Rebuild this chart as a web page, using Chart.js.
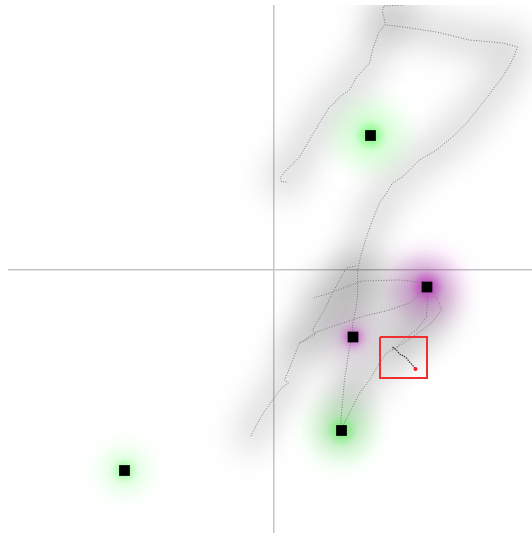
<!DOCTYPE html>
<html>
<head>
<meta charset="utf-8">
<script src="https://cdn.jsdelivr.net/npm/chart.js@4.4.1/dist/chart.umd.min.js"></script>
<style>
  html, body { margin: 0; padding: 0; background: #fff; }
  #wrap { width: 532px; height: 536px; }
</style>
</head>
<body>
<div id="wrap"><canvas id="trackChart"></canvas></div>
<script>
// Trails (x, y)
const trailA = [[1.30,2.65],[1.10,2.64],[1.09,2.58],[1.12,2.46],[1.05,2.37],[0.99,2.20],[0.96,2.07],[0.88,1.98],[0.83,1.93],[0.76,1.80],[0.66,1.73],[0.60,1.66],[0.56,1.63],[0.46,1.47],[0.40,1.37],[0.36,1.30],[0.26,1.13],[0.20,1.07],[0.13,1.00],[0.07,0.93],[0.08,0.88],[0.14,0.88]];
const trailB = [[1.13,2.45],[1.30,2.43],[1.63,2.38],[1.96,2.30],[2.29,2.27],[2.44,2.23],[2.39,2.10],[2.29,1.93],[2.19,1.80],[2.06,1.63],[1.93,1.47],[1.79,1.33],[1.63,1.20],[1.46,1.10],[1.29,0.93],[1.19,0.87],[1.13,0.77],[1.06,0.67],[0.99,0.50],[0.93,0.33],[0.88,0.17],[0.84,0.00],[0.84,-0.27],[0.82,-0.40],[0.79,-0.55],[0.79,-0.67],[0.76,-0.77],[0.71,-1.10],[0.68,-1.43],[0.67,-1.60]];
const trailC = [[0.82,0.04],[0.73,0.02],[0.66,-0.10],[0.59,-0.23],[0.51,-0.40],[0.43,-0.53],[0.39,-0.60],[0.42,-0.64],[0.33,-0.70],[0.26,-0.73],[0.18,-0.93],[0.14,-1.03],[0.11,-1.10],[0.15,-1.13],[0.09,-1.17],[-0.01,-1.30],[-0.10,-1.43],[-0.16,-1.53],[-0.23,-1.67]];
const trailD = [[0.67,-1.60],[0.76,-1.43],[0.86,-1.23],[0.96,-1.10],[1.06,-0.93],[1.13,-0.83],[1.23,-0.77],[1.33,-0.67],[1.43,-0.60],[1.53,-0.47],[1.54,-0.30],[1.53,-0.17]];
const trailE = [[1.53,-0.17],[1.63,-0.27],[1.68,-0.40],[1.59,-0.52],[1.46,-0.62],[1.36,-0.69],[1.26,-0.76],[1.19,-0.80]];
const trailF = [[0.40,-0.28],[0.56,-0.23],[0.89,-0.11],[1.26,-0.10],[1.46,-0.12],[1.53,-0.17]];
const trailG = [[0.26,-0.73],[0.43,-0.62],[0.66,-0.54],[0.91,-0.46],[1.16,-0.40],[1.36,-0.33],[1.49,-0.21]];
const squiggle = [[1.19,-0.77],[1.23,-0.80],[1.26,-0.84],[1.30,-0.86],[1.33,-0.88],[1.36,-0.92],[1.39,-0.95],[1.42,-0.99]];
const endPoint = [[1.42,-0.99]];

// markers
const greenMarks = [[0.97,1.345],[0.68,-1.605],[-1.49,-2.005]];
const greenGlow = [32, 30, 20];
const greenCore = [11, 11, 8];
const magentaMarks = [[1.535,-0.17],[0.795,-0.67]];
const magentaGlow = [32, 14];
const magentaCore = [12, 9];

// red box
const boxCorners = [[1.065,-0.67],[1.535,-0.67],[1.535,-1.08],[1.065,-1.08],[1.065,-0.67]];

const trails = [trailA, trailB, trailC, trailD, trailE, trailF, trailG];

function pts(arr) {
    return arr.map(p => ({ x: p[0], y: p[1] }));
}

const softEdges = {
    id: 'softEdges',
    beforeDatasetDraw(chart, args) {
        const ds = chart.data.datasets[args.index];
        if (ds.blur) {
            chart.ctx.save();
            chart.ctx.filter = 'blur(' + ds.blur + 'px)';
        }
    },
    afterDatasetDraw(chart, args) {
        const ds = chart.data.datasets[args.index];
        if (ds.blur) chart.ctx.restore();
    }
};

const datasets = [];

// gray haze round the trails
trails.forEach(t => {
    datasets.push({
        data: pts(t), showLine: true, pointRadius: 0,
        borderColor: 'rgba(0,0,0,0.15)', borderWidth: 30,
        borderJoinStyle: 'round', borderCapStyle: 'round',
        blur: 16, order: 7
    });
});

// coloured glows, wide and soft then a tight core
datasets.push({
    data: pts(greenMarks), pointStyle: 'circle',
    pointRadius: greenGlow, pointBackgroundColor: 'rgba(120,255,120,0.33)',
    pointBorderWidth: 0, blur: 13, order: 6
});
datasets.push({
    data: pts(magentaMarks), pointStyle: 'circle',
    pointRadius: magentaGlow, pointBackgroundColor: 'rgba(215,70,215,0.32)',
    pointBorderWidth: 0, blur: 13, order: 6
});
datasets.push({
    data: pts(greenMarks), pointStyle: 'circle',
    pointRadius: greenCore, pointBackgroundColor: 'rgba(70,240,70,0.5)',
    pointBorderWidth: 0, blur: 4, order: 5
});
datasets.push({
    data: pts(magentaMarks), pointStyle: 'circle',
    pointRadius: magentaCore, pointBackgroundColor: 'rgba(190,30,190,0.55)',
    pointBorderWidth: 0, blur: 4, order: 5
});

// dotted trails
trails.forEach(t => {
    datasets.push({
        data: pts(t), showLine: true, pointRadius: 0,
        borderColor: '#7a7a7a', borderWidth: 1, borderDash: [1, 1.6],
        order: 4
    });
});

datasets.push({
    data: pts(squiggle), showLine: true, pointRadius: 0,
    borderColor: '#333', borderWidth: 1.2, borderDash: [1.5, 1],
    order: 3
});
datasets.push({
    data: pts(endPoint), pointRadius: 2, pointBackgroundColor: '#ff2020',
    pointBorderWidth: 0, order: 2
});
datasets.push({
    data: pts(boxCorners), showLine: true, pointRadius: 0,
    borderColor: '#f03030', borderWidth: 2, order: 2
});

// black squares
datasets.push({
    data: pts(greenMarks.concat(magentaMarks)), pointStyle: 'rect',
    pointRadius: 7.6, pointBackgroundColor: '#000', pointBorderWidth: 0,
    order: 1
});

const axisLine = c => c.tick.value === 0 ? '#c6c6c6' : 'rgba(0,0,0,0)';

new Chart(document.getElementById('trackChart').getContext('2d'), {
    type: 'scatter',
    data: { datasets: datasets },
    options: {
        responsive: true,
        maintainAspectRatio: false,
        animation: false,
        layout: { autoPadding: false, padding: { left: 8, top: 5, right: 0, bottom: 3 } },
        plugins: { legend: { display: false }, tooltip: { enabled: false } },
        scales: {
            x: {
                type: 'linear', min: -2.655, max: 2.585,
                ticks: { display: false, stepSize: 1 },
                border: { display: false },
                grid: { color: axisLine, lineWidth: 1.5, drawTicks: false }
            },
            y: {
                type: 'linear', min: -2.63, max: 2.65,
                ticks: { display: false, stepSize: 1 },
                border: { display: false },
                grid: { color: axisLine, lineWidth: 1.5, drawTicks: false }
            }
        }
    },
    plugins: [softEdges]
});
</script>
</body>
</html>
